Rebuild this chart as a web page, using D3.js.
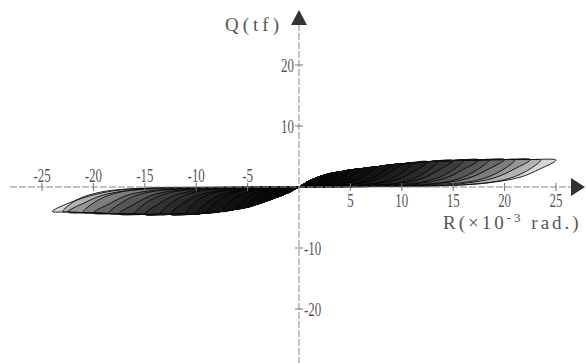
<!DOCTYPE html>
<html>
<head>
<meta charset="utf-8">
<script src="https://cdn.jsdelivr.net/npm/d3@7"></script>
<style>
  body { margin: 0; background: #fff; }
  svg { display: block; }
  text { font-family: "Liberation Serif", "DejaVu Serif", serif; fill: #555; }
</style>
</head>
<body>
<div id="chart"></div>
<script>
// tick labels
const xTicks = [-25, -20, -15, -10, -5, 5, 10, 15, 20, 25];
const yTicks = [20, 10, -10, -20];

// skeleton (envelope) curves, R in 1e-3 rad, Q in tf
const posEnvR = [0, 1, 2, 3, 4, 5, 6, 7.5, 9, 10, 12.5, 15, 17.5, 20, 22.5, 25];
const posEnvQ = [0, 1.0, 1.7, 2.2, 2.5, 2.8, 3.0, 3.3, 3.65, 3.8, 4.15, 4.35, 4.45, 4.5, 4.5, 4.4];
const negEnvR = [0, -1, -2, -3, -4, -5, -6, -7.5, -9, -10, -12.5, -15, -17.5, -20, -22.5, -24];
const negEnvQ = [0, -0.9, -1.6, -2.2, -2.8, -3.3, -3.6, -4.0, -4.25, -4.4, -4.5, -4.5, -4.4, -4.25, -4.1, -4.0];

// peak drift of each loop
const posTips = [1, 2, 3, 4, 5, 6, 7.5, 9, 10, 12.5, 15, 17.5, 20, 22.5, 25];
const negTips = [-1, -2, -3, -4, -5, -6, -7.5, -9, -10, -12.5, -15, -17.5, -20, -22.5, -24];

// unloading branches, from the peak back to the origin
const posUnload = [
  [[0.6, 0.4], [0.3, 0.1], [0, 0]],
  [[1.4, 0.8], [0.8, 0.25], [0, 0]],
  [[2.3, 1.2], [1.5, 0.4], [0.7, 0.1], [0, 0]],
  [[3.2, 1.4], [2.2, 0.5], [1, 0.1], [0, 0]],
  [[4.2, 1.6], [3.2, 0.7], [1.8, 0.2], [0, 0]],
  [[5.1, 1.8], [4, 0.8], [2.2, 0.2], [0, 0]],
  [[6.5, 2.0], [5.3, 1.0], [3.2, 0.3], [0, 0]],
  [[7.9, 2.2], [6.5, 1.0], [4, 0.3], [0, 0]],
  [[8.8, 2.4], [7.3, 1.1], [4.5, 0.3], [0, 0]],
  [[11.2, 2.6], [9.5, 1.2], [6, 0.3], [0, 0]],
  [[13.6, 2.8], [11.8, 1.3], [8, 0.35], [0, 0]],
  [[16, 2.9], [14, 1.3], [10, 0.35], [0, 0]],
  [[18.5, 3.0], [16.4, 1.4], [12, 0.35], [0, 0]],
  [[21, 3.0], [19, 1.5], [15, 0.4], [8, 0.1], [0, 0]],
  [[23.5, 3.0], [21.5, 1.6], [18, 0.6], [15, 0.3], [8, 0.1], [0, 0]]
];
const negUnload = [
  [[-0.6, -0.45], [-0.3, -0.1], [0, 0]],
  [[-1.4, -0.9], [-0.8, -0.3], [0, 0]],
  [[-2.3, -1.1], [-1.5, -0.4], [-0.7, -0.1], [0, 0]],
  [[-3.2, -1.3], [-2.2, -0.5], [-1, -0.1], [0, 0]],
  [[-4.2, -1.6], [-3.2, -0.7], [-1.8, -0.2], [0, 0]],
  [[-5.1, -1.8], [-4, -0.8], [-2.2, -0.2], [0, 0]],
  [[-6.5, -2.1], [-5.3, -1.0], [-3.2, -0.3], [0, 0]],
  [[-7.9, -2.3], [-6.5, -1.0], [-4, -0.3], [0, 0]],
  [[-8.8, -2.4], [-7.3, -1.1], [-4.5, -0.3], [0, 0]],
  [[-11.2, -2.6], [-9.5, -1.2], [-6, -0.3], [0, 0]],
  [[-13.6, -2.7], [-11.8, -1.2], [-8, -0.3], [0, 0]],
  [[-16, -2.8], [-14, -1.2], [-10, -0.3], [0, 0]],
  [[-18.5, -2.8], [-16.4, -1.2], [-12, -0.3], [0, 0]],
  [[-21, -2.7], [-19, -1.3], [-15, -0.3], [-8, -0.1], [0, 0]],
  [[-22.5, -2.7], [-20, -1.3], [-17.5, -0.5], [-15, -0.2], [-8, -0.05], [0, 0]]
];

// repeated cycles at large drift (peak point listed first)
const posTips2 = [11, 13.5, 16, 18.5, 21, 23.5];
const posUnload2 = [
  [[11, 3.95], [9.9, 2.2], [8.2, 0.9], [5, 0.25], [0, 0]],
  [[13.5, 4.2], [12.2, 2.3], [10.3, 0.9], [6.5, 0.25], [0, 0]],
  [[16, 4.35], [14.6, 2.4], [12.5, 1.0], [8, 0.3], [0, 0]],
  [[18.5, 4.45], [17, 2.5], [14.8, 1.0], [10, 0.3], [0, 0]],
  [[21, 4.45], [19.6, 2.6], [17.3, 1.1], [12, 0.3], [0, 0]],
  [[23.5, 4.4], [22, 2.5], [20, 1.2], [16, 0.35], [8, 0.1], [0, 0]]
];
const negTips2 = [-11, -13.5, -16, -18.5, -21, -23];
const negUnload2 = [
  [[-11, -4.4], [-9.9, -2.2], [-8.2, -0.9], [-5, -0.25], [0, 0]],
  [[-13.5, -4.45], [-12.2, -2.3], [-10.3, -0.9], [-6.5, -0.25], [0, 0]],
  [[-16, -4.4], [-14.6, -2.3], [-12.5, -0.9], [-8, -0.25], [0, 0]],
  [[-18.5, -4.3], [-17, -2.3], [-14.8, -0.9], [-10, -0.25], [0, 0]],
  [[-21, -4.15], [-19.6, -2.2], [-17.3, -0.8], [-12, -0.2], [0, 0]],
  [[-23, -4.05], [-21.6, -2.1], [-19.2, -0.8], [-15, -0.2], [-8, -0.05], [0, 0]]
];

const W = 586, H = 363;
const x = d3.scaleLinear().domain([-25, 25]).range([42, 556]);
const y = d3.scaleLinear().domain([-20, 20]).range([309, 65]);
const x0 = x(0), y0 = y(0);

const svg = d3.select('#chart').append('svg')
  .attr('width', W).attr('height', H);

// loops
const line = d3.line()
  .x(d => x(d[0]))
  .y(d => y(d[1]))
  .curve(d3.curveCatmullRom.alpha(0.5));

function leaves(envR, envQ, tips, unload) {
  return tips.map((t, i) => {
    const up = envR.map((r, j) => [r, envQ[j]]).filter(p => Math.abs(p[0]) <= Math.abs(t));
    return up.concat(unload[i]);
  });
}
const loops = leaves(posEnvR, posEnvQ, posTips, posUnload)
  .concat(leaves(negEnvR, negEnvQ, negTips, negUnload))
  .concat(leaves(posEnvR, posEnvQ, posTips2, posUnload2))
  .concat(leaves(negEnvR, negEnvQ, negTips2, negUnload2));

svg.append('g')
  .selectAll('path')
  .data(loops)
  .enter()
  .append('path')
  .attr('d', line)
  .attr('fill', '#000')
  .attr('fill-opacity', 0.16)
  .attr('stroke', '#111')
  .attr('stroke-width', 1)
  .attr('stroke-opacity', 0.9);

// axes
const ax = svg.append('g').attr('stroke', '#888').attr('stroke-width', 1);
ax.append('line')
  .attr('x1', 10).attr('x2', 572).attr('y1', y0).attr('y2', y0)
  .attr('stroke-dasharray', '7,2');
ax.append('line')
  .attr('x1', x0).attr('x2', x0).attr('y1', 24).attr('y2', H)
  .attr('stroke-dasharray', '7,2');

svg.append('path')
  .attr('d', `M${571},${y0 - 9}L${585},${y0}L${571},${y0 + 9}Z`)
  .attr('fill', '#333');
svg.append('path')
  .attr('d', `M${x0 - 8},${25}L${x0},${10}L${x0 + 8},${25}Z`)
  .attr('fill', '#333');

// x ticks
const xt = svg.append('g').selectAll('g').data(xTicks).enter().append('g');
xt.append('line')
  .attr('x1', d => x(d)).attr('x2', d => x(d))
  .attr('y1', y0 - 4).attr('y2', y0 + 4)
  .attr('stroke', '#777');
xt.append('text')
  .attr('transform', d => `translate(${x(d)},${d < 0 ? y0 - 5 : y0 + 20}) scale(0.68,1)`)
  .attr('text-anchor', 'middle')
  .attr('font-size', 19)
  .text(d => d);

// y ticks
const yt = svg.append('g').selectAll('g').data(yTicks).enter().append('g');
yt.append('line')
  .attr('x1', x0 - 4).attr('x2', x0 + 4)
  .attr('y1', d => y(d)).attr('y2', d => y(d))
  .attr('stroke', '#777');
yt.append('text')
  .attr('transform', d => `translate(${d > 0 ? x0 - 5 : x0 + 5},${y(d) + 7}) scale(0.68,1)`)
  .attr('text-anchor', d => d > 0 ? 'end' : 'start')
  .attr('font-size', 19)
  .text(d => d);

// axis titles
svg.append('text')
  .attr('x', 225).attr('y', 31)
  .attr('font-size', 19)
  .attr('letter-spacing', 4)
  .text('Q(tf)');

const rt = svg.append('text')
  .attr('x', 443).attr('y', 229)
  .attr('font-size', 19)
  .attr('letter-spacing', 3);
rt.append('tspan').text('R(×10');
rt.append('tspan').attr('dy', -7).attr('font-size', 13).text('-3');
rt.append('tspan').attr('dy', 7).text(' rad.)');
</script>
</body>
</html>
